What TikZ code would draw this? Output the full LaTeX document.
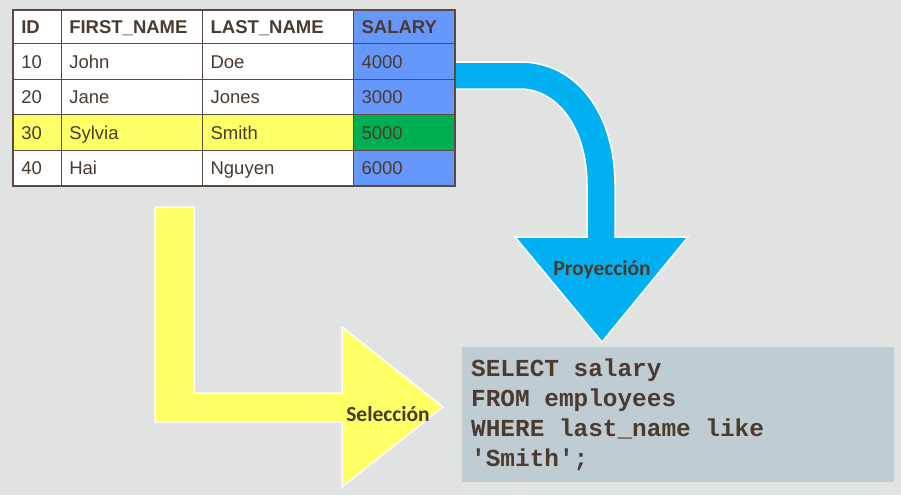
\documentclass[tikz,border=0pt]{standalone}
\usepackage{fontspec}
\setmainfont{Liberation Sans}
\newfontfamily\labelfont{Carlito}
\newfontfamily\codefont{Liberation Mono}
\usetikzlibrary{positioning}
\definecolor{bg}{HTML}{E1E3E2}
\definecolor{tabline}{HTML}{5A4A42}
\definecolor{txt}{HTML}{4B3A2E}
\definecolor{rowyellow}{HTML}{FFFF66}
\definecolor{salgreen}{HTML}{00B050}
\definecolor{salblue}{HTML}{6697FA}
\definecolor{projcyan}{HTML}{00B0F0}
\definecolor{sqlgrey}{HTML}{BFCDD2}

\begin{document}
\begin{tikzpicture}[x=1pt,y=-1pt,
  cell/.style = {draw=tabline, line width=1.2pt, anchor=north west, inner xsep=8pt, inner ysep=0pt,
                 text height=13.5pt, text depth=0pt, align=left, text=txt,
                 font=\fontsize{18.5}{20}\selectfont},
  hdr/.style = {cell, font=\bfseries\fontsize{18.5}{20}\selectfont},
  bigarrow/.style = {draw=white, line width=1.5pt, line join=miter},
  arrowlabel/.style = {text=txt, font=\labelfont\bfseries\fontsize{21.5}{23}\selectfont},
  sqlbox/.style = {fill=sqlgrey, anchor=north west, minimum width=432pt, minimum height=135pt,
                   inner xsep=9pt, text width=414pt, align=left, text=txt,
                   font=\codefont\bfseries\fontsize{24.4}{30}\selectfont}]
  \useasboundingbox[fill=bg] (0,0) rectangle (901,495);

  % projection arrow
  \draw[bigarrow, fill=projcyan] (440,62) -- (520,62) .. controls (578,62) and (615,115) .. (615,185)
    -- (615,237) -- (688,237) -- (602,342) -- (515,237) -- (587,237) -- (587,185)
    .. controls (587,128) and (557,89) .. (520,89) -- (440,89) -- cycle;
  \node[arrowlabel] (proj) at (602,270) {Proyección};

  % selection arrow
  \draw[bigarrow, fill=rowyellow] (155,207) -- (194,207) -- (194,393) -- (342,393) -- (342,327)
    -- (443,407) -- (342,487) -- (342,422) -- (155,422) -- cycle;
  \node[arrowlabel] (sel) at (388,414) {Selección};

  % table
  \node[hdr, fill=white, text width=32pt, minimum height=33pt] (h1) at (12.7,10) {ID};
  \node[hdr, fill=white, text width=125.3pt, minimum height=33pt] (h2) at (60.7,10) {FIRST\_NAME};
  \node[hdr, fill=white, text width=135pt, minimum height=33pt] (h3) at (202,10) {LAST\_NAME};
  \node[hdr, fill=salblue, text width=85pt, minimum height=33pt] (h4) at (353,10) {SALARY};
  \foreach \r/\y/\h/\id/\fn/\ln/\sal/\rowfill/\salfill in
    {1/43/36/10/John/Doe/4000/white/salblue,
     2/79/35/20/Jane/Jones/3000/white/salblue,
     3/114/36/30/Sylvia/Smith/5000/rowyellow/salgreen,
     4/150/35/40/Hai/Nguyen/6000/white/salblue}{
    \node[cell, fill=\rowfill, text width=32pt, minimum height=\h pt] (id\r) at (12.7,\y) {\id};
    \node[cell, fill=\rowfill, text width=125.3pt, minimum height=\h pt] (fn\r) at (60.7,\y) {\fn};
    \node[cell, fill=\rowfill, text width=135pt, minimum height=\h pt] (ln\r) at (202,\y) {\ln};
    \node[cell, fill=\salfill, text width=85pt, minimum height=\h pt] (sal\r) at (353,\y) {\sal};
  }
  \draw[tabline, line width=2pt] (h1.north west) rectangle (sal4.south east);

  % query
  \node[sqlbox] (sql) at (462,347) {\spaceskip=0pt\relax
    SELECT salary\\FROM employees\\WHERE last\_name like\\'Smith';};
\end{tikzpicture}
\end{document}
